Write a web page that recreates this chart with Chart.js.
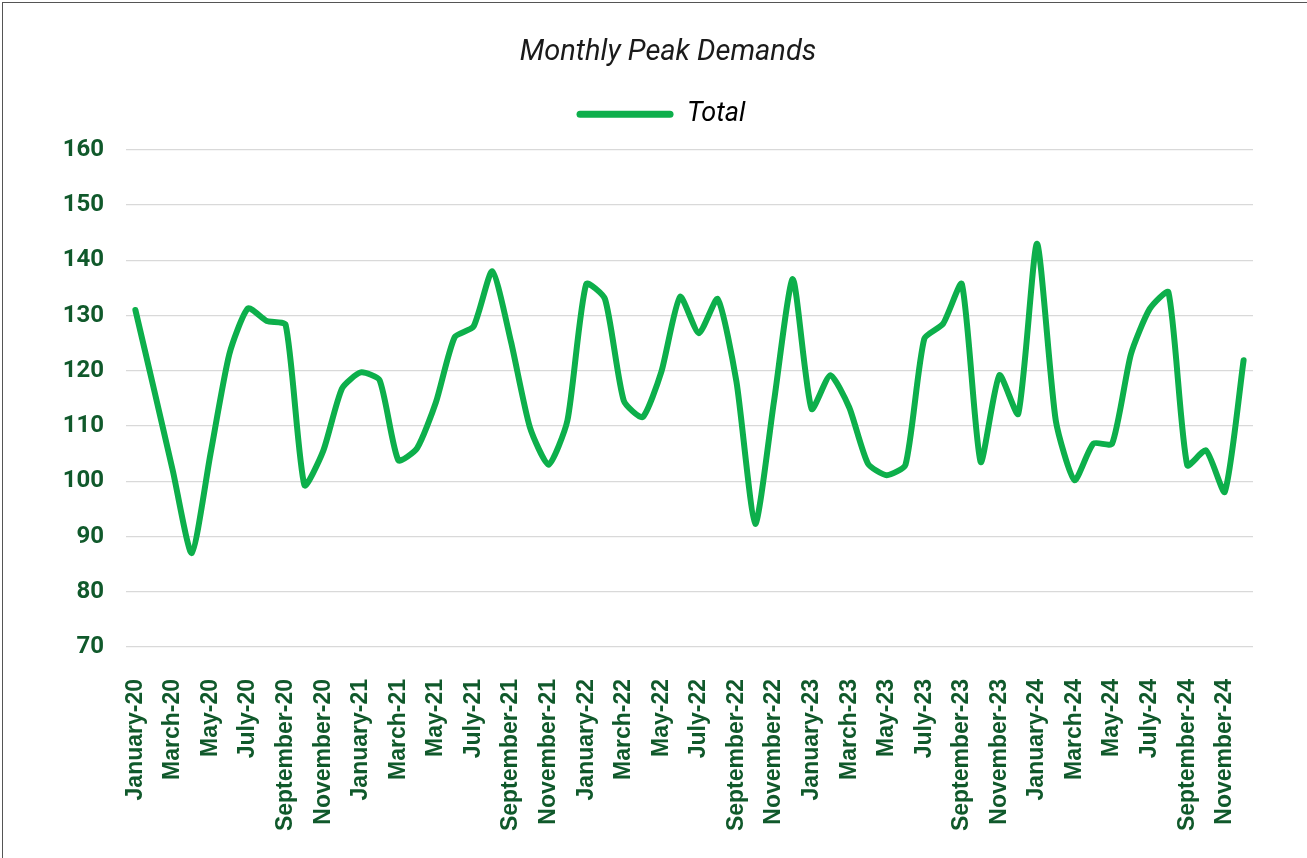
<!DOCTYPE html>
<html>
<head>
<meta charset="utf-8">
<title>Monthly Peak Demands</title>
<script src="https://cdn.jsdelivr.net/npm/chart.js@4.4.1/dist/chart.umd.min.js"></script>
<style>
    html, body { margin: 0; padding: 0; background: #ffffff; overflow: hidden; }
    #frame {
        position: absolute; left: 2px; top: 2px; width: 1400px; height: 1000px;
        border: 1px solid #555555; pointer-events: none;
    }
    canvas { position: absolute; left: 0; top: 0; }
</style>
</head>
<body>
<canvas id="peakChart" width="1307" height="858"></canvas>
<div id="frame"></div>
<script>
// Meses y años del eje X
const monthNames = ['January', 'February', 'March', 'April', 'May', 'June',
    'July', 'August', 'September', 'October', 'November', 'December'];
const years = ['20', '21', '22', '23', '24'];

// Valores de la serie "Total" (de enero-20 a diciembre-24)
const totalValues = [
    131.0, 116.5, 101.8, 87.0, 105.0, 123.0, 131.3, 129.0, 128.3, 99.3, 105.5, 116.8,
    119.7, 118.3, 103.8, 106.0, 114.3, 126.1, 128.0, 138.0, 125.2, 109.8, 103.0, 111.0,
    135.7, 133.0, 114.6, 111.6, 119.8, 133.4, 126.8, 133.0, 118.0, 92.3, 114.5, 136.6,
    113.1, 119.2, 113.4, 103.2, 101.1, 103.0, 125.8, 128.5, 135.7, 103.5, 119.2, 112.2,
    143.0, 111.0, 100.2, 106.8, 106.8, 123.0, 131.2, 134.2, 102.9, 105.6, 98.1, 121.9
];

// Marcas del eje Y
const yMin = 70;
const yMax = 160;
const yStep = 10;

const monthLabels = [];
years.forEach(function (yy) {
    monthNames.forEach(function (m) {
        monthLabels.push(m + '-' + yy);
    });
});

const lineColor = '#0daf4b';
const tickColor = '#10592b';

// Centrar título y leyenda un poco a la derecha, como en el original
const shiftHeader = {
    id: 'shiftHeader',
    afterLayout: function (chart) {
        if (chart.titleBlock) {
            chart.titleBlock.left = 83;
        }
        if (chart.legend) {
            chart.legend.left = 69;
        }
    }
};

const ctx = document.getElementById('peakChart').getContext('2d');
const peakChart = new Chart(ctx, {
    type: 'line',
    data: {
        labels: monthLabels,
        datasets: [{
            label: 'Total',
            data: totalValues,
            borderColor: lineColor,
            backgroundColor: lineColor,
            borderWidth: 6,
            pointRadius: 0,
            tension: 0.2,
            borderCapStyle: 'round',
            borderJoinStyle: 'round'
        }]
    },
    plugins: [shiftHeader],
    options: {
        responsive: false,
        animation: false,
        layout: {
            padding: { left: 0, right: 54, top: 0, bottom: 0 }
        },
        plugins: {
            title: {
                display: true,
                text: 'Monthly Peak Demands',
                color: '#1a1a1a',
                font: { family: 'Roboto', size: 29, style: 'italic', weight: 'normal' },
                padding: { top: 35, bottom: 3 }
            },
            // espacio vacío entre la leyenda y el área del gráfico
            subtitle: {
                display: true,
                text: '',
                weight: 500,
                font: { size: 10, lineHeight: 1 },
                padding: { top: 0, bottom: 2 }
            },
            legend: {
                display: true,
                position: 'top',
                labels: {
                    color: '#1a1a1a',
                    font: { family: 'Roboto', size: 27, style: 'italic' },
                    boxWidth: 97,
                    boxHeight: 7,
                    useBorderRadius: true,
                    borderRadius: 3.5,
                    padding: 28,
                    generateLabels: function (chart) {
                        return [{
                            text: 'Total',
                            fillStyle: lineColor,
                            strokeStyle: lineColor,
                            lineWidth: 0,
                            borderRadius: 3.5,
                            datasetIndex: 0
                        }];
                    }
                }
            },
            tooltip: { enabled: false }
        },
        scales: {
            x: {
                offset: true,
                grid: { display: false },
                border: { display: false },
                ticks: {
                    autoSkip: false,
                    maxRotation: 90,
                    minRotation: 90,
                    color: tickColor,
                    padding: 24,
                    font: { family: 'Liberation Sans', size: 23, weight: 'bold' },
                    callback: function (value, index) {
                        return index % 2 === 0 ? this.getLabelForValue(value) : '';
                    }
                },
                afterFit: function (scale) {
                    scale.height = 211;
                }
            },
            y: {
                min: yMin,
                max: yMax,
                ticks: {
                    stepSize: yStep,
                    color: tickColor,
                    padding: 22,
                    font: { family: 'Roboto', size: 24, weight: 'bold' }
                },
                grid: { color: '#d9d9d9', lineWidth: 1.3, drawTicks: false },
                border: { display: false },
                afterFit: function (scale) {
                    scale.width = 126;
                }
            }
        }
    }
});
</script>
</body>
</html>
